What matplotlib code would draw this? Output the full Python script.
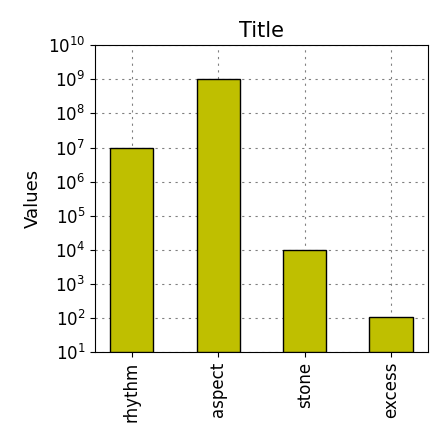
import numpy as np
import matplotlib.pyplot as plt

categories = ["rhythm", "aspect", "stone", "excess"]
values = [1e7, 1e9, 1e4, 1e2]

fig = plt.figure(figsize=(4.48, 4.48), dpi=100)
ax = fig.add_axes([0.212, 0.214, 0.743, 0.685])
ax.bar(categories, values, width=0.5, color="#bfbf00", edgecolor="black", linewidth=1, bottom=10, zorder=3)
ax.set_yscale("log")
ax.set_ylim(10, 1e10)
ax.set_yticks([10.0**k for k in range(1, 11)])
ax.grid(True, linestyle=(0, (2, 4)), color="gray", linewidth=0.8, zorder=0)
ax.set_title("Title", fontsize=15)
ax.set_ylabel("Values", fontsize=13)
ax.tick_params(axis="x", labelrotation=90, labelsize=12)
ax.tick_params(axis="y", labelsize=12)
fig.savefig("out.png")
